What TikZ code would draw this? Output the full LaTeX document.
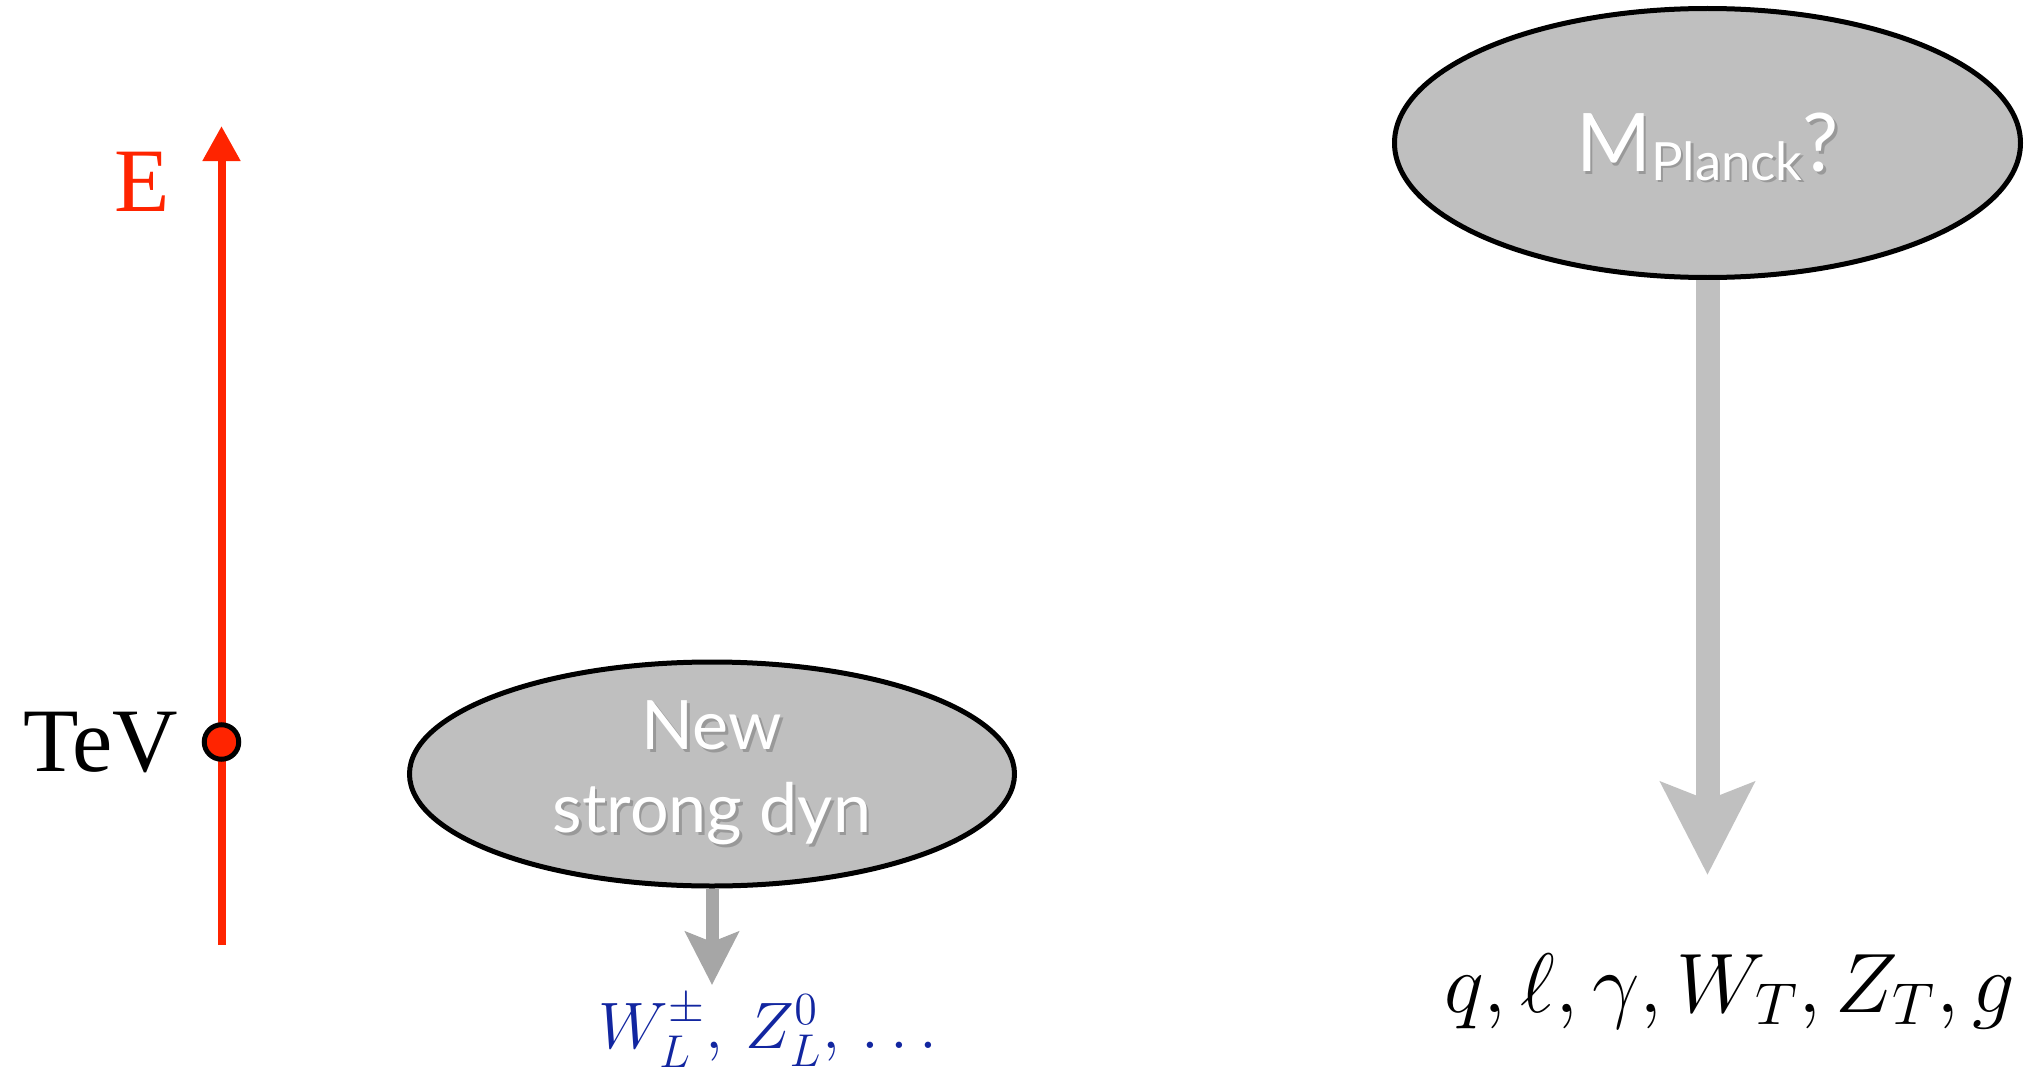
\RequirePackage{fix-cm}
\documentclass[tikz,border=0pt]{standalone}
\usepackage[no-math]{fontspec}
\usepackage{amsmath,amssymb}
\usepackage{xcolor}
\usepackage{tikz}
\usetikzlibrary{arrows.meta,positioning,shapes.geometric}
\newfontfamily\timesish{Liberation Serif}
\newfontfamily\gillish{Lato}
\definecolor{energyred}{RGB}{255,36,0}
\definecolor{blobgray}{RGB}{191,191,191}
\definecolor{darkarrow}{RGB}{166,166,166}
\definecolor{lightarrow}{RGB}{192,192,192}
\definecolor{longblue}{RGB}{18,38,160}
\newcommand{\softshadow}[1]{\makebox[0pt][l]{\hspace{0.025cm}\raisebox{-0.03cm}{\textcolor{black!40}{#1}}}#1}

\begin{document}
\begin{tikzpicture}[every node/.style={inner sep=0pt},
    blob/.style={ellipse, draw=black, line width=0.05cm, fill=blobgray, text=white, align=center},
    axisline/.style={energyred, line width=0.08cm, -{Triangle[length=0.35cm, width=0.36cm]}},
    tevdot/.style={circle, draw=black, fill=energyred, line width=0.05cm, minimum size=0.345cm},
    smallflow/.style={darkarrow, line width=0.13cm, -{Stealth[length=0.53cm, width=0.53cm, inset=0.1cm]}},
    bigflow/.style={lightarrow, line width=0.24cm, -{Stealth[length=0.92cm, width=0.92cm, inset=0.17cm]}},
    scalefont/.style={font=\timesish\fontsize{25.8pt}{30pt}\selectfont}]
  \useasboundingbox (0,0) rectangle (20.31,-10.68);
  % energy axis
  \coordinate (axbot) at (2.215,-9.45);
  \coordinate (axtop) at (2.215,-1.26);
  \draw[axisline] (axbot) -- (axtop);
  \node[scalefont, text=energyred] (elab) at (1.42,-1.82) {E};
  \node[tevdot] (tev) at (2.215,-7.42) {};
  \node[scalefont, left=0.23cm of tev] (tevlab) {TeV};
  % strong dynamics at the TeV scale
  \node[blob, minimum width=6.05cm, minimum height=2.24cm,
        font=\gillish\fontsize{19.4pt}{23.6pt}\selectfont] (strong) at (7.12,-7.74)
        {\softshadow{New}\\\softshadow{strong dyn}};
  \coordinate (tipl) at (7.12,-9.85);
  \draw[smallflow] (strong.south) -- (tipl);
  \node[anchor=base west, text=longblue, font=\fontsize{18.7pt}{22pt}\selectfont] (goldstone) at (5.98,-10.48)
        {$W_L^{\pm},\, Z_L^0,\, \ldots$};
  % Planck scale
  \node[blob, minimum width=6.26cm, minimum height=2.69cm, text height=0.58cm, text depth=0cm,
        font=\gillish\fontsize{23pt}{27pt}\selectfont] (planck) at (17.075,-1.43)
        {\softshadow{M\raisebox{-0.08cm}{\fontsize{15pt}{17pt}\selectfont Planck}?}};
  \coordinate (tipr) at (17.075,-8.75);
  \draw[bigflow] (planck.south) -- (tipr);
  \node[anchor=base, font=\fontsize{24pt}{28pt}\selectfont] (light) at (17.30,-10.12)
        {$q,\ell,\gamma,W_T,Z_T,g$};
\end{tikzpicture}
\end{document}
